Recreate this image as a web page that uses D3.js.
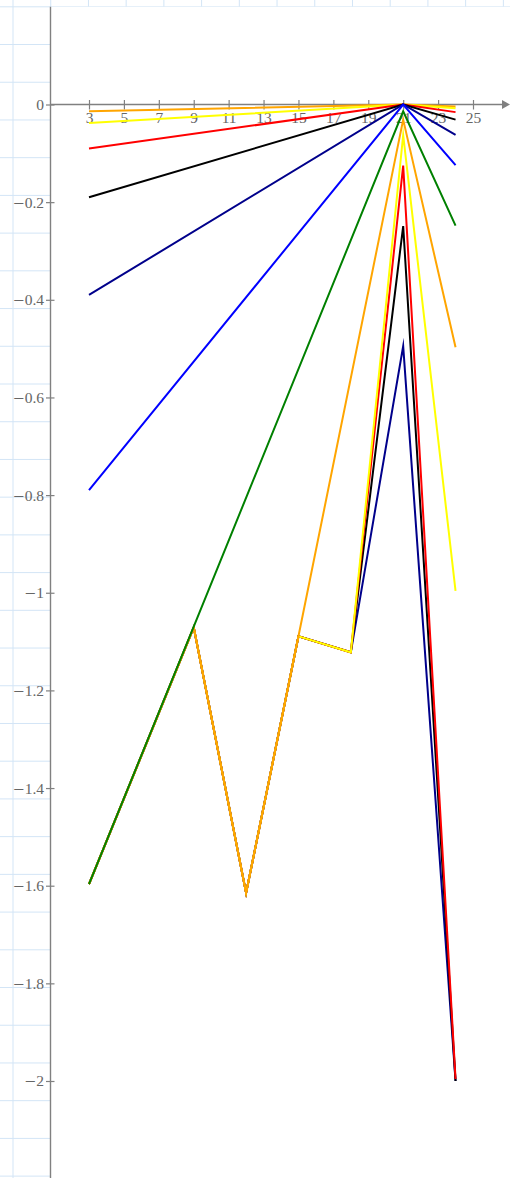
<!DOCTYPE html>
<html>
<head>
<meta charset="utf-8">
<script src="https://cdn.jsdelivr.net/npm/d3@7"></script>
<style>
html,body{margin:0;padding:0;background:#fff;}
svg{display:block;}
</style>
</head>
<body>
<svg id="chart" width="510" height="1178"></svg>
<script>
// ---- data ----
const xTicks = [3,5,7,9,11,13,15,17,19,21,23,25];
const yTicks = [0,-0.2,-0.4,-0.6,-0.8,-1,-1.2,-1.4,-1.6,-1.8,-2];

// zig-zag series (x positions shared)
const zigX      = [3, 9, 12, 15, 18, 21, 24];
const zigNavy   = [-1.597, -1.071, -1.615, -1.089, -1.122, -0.495, -2.0];
const zigBlack  = [-1.597, -1.071, -1.615, -1.089, -1.122, -0.249, -2.0];
const zigRed    = [-1.597, -1.071, -1.615, -1.089, -1.122, -0.125, -1.996];
const zigYellow = [-1.597, -1.071, -1.615, -1.089, -1.122, -0.0625, -0.996];
const zigOrangeX = [3, 9, 12, 15, 21, 24];
const zigOrange  = [-1.597, -1.071, -1.615, -1.089, -0.031, -0.497];

// fan series
const fanX      = [3, 21, 24];
const fanOrange = [-0.0137, 0, -0.0039];
const fanYellow = [-0.038, 0, -0.0078];
const fanRed    = [-0.090, 0, -0.0156];
const fanBlack  = [-0.190, 0, -0.031];
const fanNavy   = [-0.390, 0, -0.062];
const fanBlue   = [-0.790, 0, -0.124];
const fanGreen  = [-1.597, -0.014, -0.248];

const series = [
  {xs: zigX, ys: zigNavy, color: "#00008b"},
  {xs: zigX, ys: zigBlack, color: "#000000"},
  {xs: zigX, ys: zigRed, color: "#ff0000"},
  {xs: zigX, ys: zigYellow, color: "#ffff00"},
  {xs: zigOrangeX, ys: zigOrange, color: "#ffa500"},
  {xs: fanX, ys: fanOrange, color: "#ffa500"},
  {xs: fanX, ys: fanYellow, color: "#ffff00"},
  {xs: fanX, ys: fanRed, color: "#ff0000"},
  {xs: fanX, ys: fanBlack, color: "#000000"},
  {xs: fanX, ys: fanNavy, color: "#00008b"},
  {xs: fanX, ys: fanBlue, color: "#0000ff"},
  {xs: fanX, ys: fanGreen, color: "#008000"}
];

// ---- drawing ----
const W = 510, H = 1178;
const svg = d3.select("#chart");

// graph-paper background
const gs = 37.72, gx0 = 13.0, gy0 = 6.8;
const grid = svg.append("g").attr("stroke", "#d3e5f6").attr("stroke-width", 1);
grid.selectAll("line.v").data(d3.range(gx0, W, gs)).join("line")
  .attr("x1", d => d).attr("x2", d => d).attr("y1", 0).attr("y2", H);
grid.selectAll("line.h").data(d3.range(gy0, H, gs)).join("line")
  .attr("y1", d => d).attr("y2", d => d).attr("x1", 0).attr("x2", W);

// white plot area
svg.append("rect").attr("x", gx0 + gs).attr("y", gy0).attr("width", W).attr("height", H).attr("fill", "#fff");

const x = d3.scaleLinear().domain([3, 25]).range([89, 473]);
const y = d3.scaleLinear().domain([0, -2]).range([104.5, 1081]);
const axisColor = "#808080", labelColor = "#666";
const fontFam = "'Liberation Serif', 'DejaVu Serif', serif";
const x0 = 50.5;

// y axis
const fmt = d3.format("~g");
const yAxis = svg.append("g").attr("transform", `translate(${x0},0)`)
  .call(d3.axisLeft(y).tickValues(yTicks).tickFormat(fmt).tickSize(4.5).tickPadding(6));
yAxis.select(".domain").remove();
yAxis.selectAll(".tick line").attr("x1", 4).attr("x2", -4.5).attr("stroke", axisColor).attr("stroke-width", 1.2);
yAxis.selectAll(".tick text").attr("fill", labelColor).attr("font-family", fontFam).attr("font-size", 15.5).attr("x", -6.5)
  .each(function(d) {
    const t = d3.select(this);
    const s = fmt(d);
    if (d < 0) {
      t.text(null);
      t.append("tspan").attr("font-family", "'DejaVu Serif', serif").attr("font-size", 14.5).text("\u2212");
      t.append("tspan").text(s.replace("\u2212", "").replace("-", ""));
    }
  });
svg.append("line").attr("x1", x0).attr("x2", x0).attr("y1", gy0).attr("y2", H)
  .attr("stroke", axisColor).attr("stroke-width", 1.4);

// x axis
const xAxis = svg.append("g").attr("transform", `translate(0,${y(0)})`)
  .call(d3.axisBottom(x).tickValues(xTicks).tickFormat(d3.format("d")).tickSize(5).tickPadding(6));
xAxis.select(".domain").remove();
xAxis.selectAll(".tick line").attr("y1", -4.5).attr("y2", 5).attr("stroke", axisColor).attr("stroke-width", 1.2);
xAxis.selectAll(".tick text").attr("fill", labelColor).attr("font-family", fontFam).attr("font-size", 15.5).attr("dy", "0.62em").attr("y", 9);
svg.append("line").attr("x1", x0).attr("x2", 502).attr("y1", y(0)).attr("y2", y(0))
  .attr("stroke", axisColor).attr("stroke-width", 1.4);
svg.append("path").attr("d", `M502,${y(0)-4.5}L510,${y(0)}L502,${y(0)+4.5}Z`).attr("fill", axisColor);

// lines
const line = d3.line().x(d => x(d[0])).y(d => y(d[1]));
svg.append("g").selectAll("path").data(series).join("path")
  .attr("d", s => line(s.xs.map((v, i) => [v, s.ys[i]])))
  .attr("fill", "none").attr("stroke", s => s.color).attr("stroke-width", 2)
  .attr("stroke-linejoin", "miter").attr("stroke-miterlimit", 10);
</script>
</body>
</html>
